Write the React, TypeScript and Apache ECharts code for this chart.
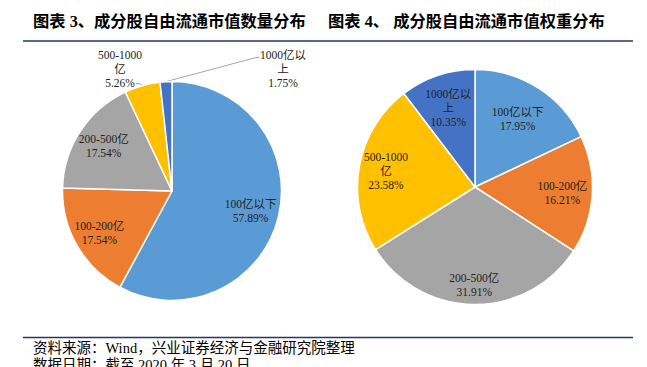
import React, { useEffect, useRef } from 'react';
import * as echarts from 'echarts';

// ---- data ----
const categories = ['100亿以下', '100-200亿', '200-500亿', '500-1000亿', '1000亿以上'];
const labelNames = ['100亿以下', '100-200亿', '200-500亿', '500-1000\n亿', '1000亿以\n上'];
const countShare = [57.89, 17.54, 17.54, 5.26, 1.75];
const weightShare = [17.95, 16.21, 31.91, 23.58, 10.35];
const sliceColors = ['#5B9BD5', '#ED7D31', '#A5A5A5', '#FFC000', '#4472C4'];
const titleLeft = '图表 3、成分股自由流通市值数量分布';
const titleRight = '图表 4、 成分股自由流通市值权重分布';
const sourceText = '资料来源：Wind，兴业证券经济与金融研究院整理';
const dateText = '数据日期：截至 2020 年 3 月 20 日';

const SERIF = "'Times New Roman', 'Liberation Serif', 'Noto Sans CJK SC', serif";

function midAngle(values: number[], i: number) {
  const sum = values.reduce((a, b) => a + b, 0);
  let acc = 0;
  for (let k = 0; k < i; k++) acc += values[k];
  return ((acc + values[i] / 2) / sum) * Math.PI * 2;
}

function makePie(
  values: number[],
  center: [number, number],
  r: number,
  ratios: (number | null)[],
  outside: Record<number, [number, number]>
) {
  const [cx, cy] = center;
  return {
    type: 'pie',
    center,
    radius: r,
    startAngle: 90,
    clockwise: true,
    avoidLabelOverlap: false,
    silent: true,
    itemStyle: { borderColor: '#fff', borderWidth: 1.5 },
    label: {
      show: true,
      position: 'inside',
      color: '#222',
      fontFamily: SERIF,
      fontSize: 11.5,
      lineHeight: 14,
      align: 'center',
      formatter: (p: any) => labelNames[p.dataIndex] + '\n' + Number(p.value).toFixed(2) + '%',
    },
    labelLine: { show: false },
    labelLayout: (p: any) => {
      const i = p.dataIndex;
      const lr = p.labelRect;
      if (outside[i]) {
        const [lx, ly] = outside[i];
        const a = midAngle(values, i);
        const P = [cx + r * Math.sin(a), cy - r * Math.cos(a)];
        const w = lr.width;
        let pts: number[][];
        if (lx > cx) {
          const left = lx - w / 2;
          pts = [P, [left - 4, ly - 11], [left - 1, ly - 11]];
        } else {
          pts = [P, [lx + 19, ly + 15], [lx + 16, ly + 15]];
        }
        return { x: lx, y: ly, align: 'center', verticalAlign: 'middle', labelLinePoints: pts };
      }
      const ratio = ratios[i] ?? 0.5;
      const lx = lr.x + lr.width / 2;
      const ly = lr.y + lr.height / 2;
      const dx = lx - cx;
      const dy = ly - cy;
      const d = Math.hypot(dx, dy) || 1;
      const t = ratio * r;
      return { x: cx + (dx / d) * t, y: cy + (dy / d) * t, align: 'center', verticalAlign: 'middle' };
    },
    data: values.map((v, i) => {
      const item: any = { name: categories[i], value: v, itemStyle: { color: sliceColors[i] } };
      if (outside[i]) {
        item.label = { position: 'outside' };
        item.labelLine = { show: true, lineStyle: { color: '#A6A6A6', width: 1 } };
      }
      return item;
    }),
  };
}

export default function App() {
  const ref = useRef<HTMLDivElement>(null);
  useEffect(() => {
    if (!ref.current) return;
    const chart = echarts.init(ref.current, null, { renderer: 'svg' });
    const navy = '#1F3864';
    chart.setOption({
      animation: false,
      backgroundColor: '#fff',
      graphic: [
        {
          type: 'text', left: 33, top: 13.5,
          style: { text: titleLeft, fontSize: 16.3, fontWeight: 'bold', fontFamily: SERIF, fill: '#000' },
        },
        {
          type: 'text', left: 328, top: 13.5,
          style: { text: titleRight, fontSize: 16.3, fontWeight: 'bold', fontFamily: SERIF, fill: '#000' },
        },
        { type: 'line', shape: { x1: 23, y1: 41, x2: 633, y2: 41 }, style: { stroke: navy, lineWidth: 1.5 } },
        { type: 'line', shape: { x1: 23, y1: 337.5, x2: 633, y2: 337.5 }, style: { stroke: navy, lineWidth: 1.5 } },
        {
          type: 'text', left: 33, top: 340.5,
          style: { text: sourceText, fontSize: 14.5, fontFamily: SERIF, fill: '#000' },
        },
        {
          type: 'text', left: 33, top: 357.5,
          style: { text: dateText, fontSize: 14.5, fontFamily: SERIF, fill: '#000' },
        },
      ],
      series: [
        makePie(countShare, [172, 191], 109.5, [0.74, 0.765, 0.745, null, null], {
          3: [120, 68.5],
          4: [283, 68.5],
        }),
        makePie(weightShare, [475, 187], 117.5, [0.68, 0.745, 0.83, 0.77, 0.71], {}),
      ],
    });
    return () => chart.dispose();
  }, []);
  return <div ref={ref} style={{ position: 'fixed', left: 0, top: 0, width: 647, height: 367 }} />;
}
